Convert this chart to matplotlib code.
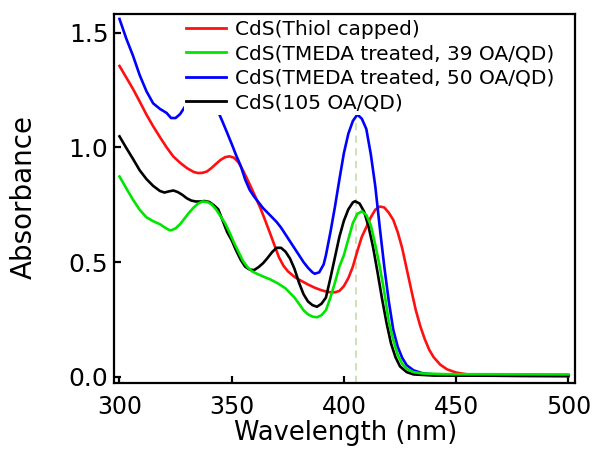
import matplotlib
matplotlib.use("Agg")
import matplotlib.pyplot as plt

# ---------------- data ----------------
labels = ["CdS(Thiol capped)",
          "CdS(TMEDA treated, 39 OA/QD)",
          "CdS(TMEDA treated, 50 OA/QD)",
          "CdS(105 OA/QD)"]

red_wl = [300, 303, 306, 309, 312, 315, 318, 321, 324, 327, 330, 333, 335, 337,
          339, 341, 343, 345, 347, 349, 351, 353, 355, 357, 359, 361, 363, 365,
          367, 369, 371, 373, 375, 378, 381, 384, 387, 390, 393, 396, 398, 400,
          402, 404, 406, 408, 410, 412, 414, 416, 418, 420, 422, 424, 426, 428,
          430, 432, 434, 436, 438, 440, 443, 446, 450, 455, 460, 470, 480, 500]
red_abs = [1.355, 1.305, 1.255, 1.200, 1.143, 1.092, 1.045, 1.000, 0.960, 0.933,
           0.910, 0.893, 0.888, 0.889, 0.895, 0.910, 0.928, 0.945, 0.957, 0.961,
           0.955, 0.935, 0.900, 0.860, 0.818, 0.775, 0.730, 0.680, 0.628, 0.575,
           0.522, 0.485, 0.460, 0.435, 0.418, 0.402, 0.388, 0.377, 0.369, 0.368,
           0.374, 0.395, 0.430, 0.480, 0.548, 0.610, 0.652, 0.695, 0.728, 0.742,
           0.738, 0.715, 0.684, 0.630, 0.560, 0.470, 0.380, 0.292, 0.222, 0.165,
           0.118, 0.085, 0.052, 0.032, 0.018, 0.010, 0.006, 0.004, 0.003, 0.002]

blue_wl = [300, 303, 306, 309, 312, 315, 318, 321, 323, 325, 327, 329, 331, 334,
           337, 340, 342, 344, 346, 348, 350, 352, 354, 356, 358, 360, 362, 364,
           366, 368, 370, 372, 374, 376, 378, 380, 382, 384, 386, 387, 389, 391,
           392, 394, 396, 398, 400, 402, 404, 406, 408, 410, 412, 414, 416, 418,
           420, 422, 424, 426, 428, 431, 435, 440, 450, 470, 500]
blue_abs = [1.560, 1.475, 1.400, 1.315, 1.245, 1.192, 1.168, 1.150, 1.128, 1.128,
            1.145, 1.175, 1.205, 1.235, 1.245, 1.225, 1.195, 1.155, 1.110, 1.063,
            1.015, 0.965, 0.920, 0.860, 0.815, 0.785, 0.760, 0.735, 0.715, 0.695,
            0.675, 0.650, 0.620, 0.590, 0.560, 0.530, 0.500, 0.475, 0.455, 0.449,
            0.455, 0.490, 0.530, 0.630, 0.740, 0.860, 0.975, 1.060, 1.115, 1.143,
            1.125, 1.080, 0.970, 0.830, 0.650, 0.480, 0.330, 0.205, 0.130, 0.082,
            0.050, 0.028, 0.015, 0.010, 0.008, 0.007, 0.006]

black_wl = [300, 303, 306, 309, 312, 315, 318, 320, 322, 324, 326, 328, 330, 332,
            334, 336, 338, 340, 342, 344, 346, 348, 350, 352, 354, 356, 358, 360,
            362, 364, 366, 368, 370, 372, 374, 376, 378, 380, 382, 384, 386, 388,
            390, 392, 394, 396, 398, 400, 402, 404, 405, 407, 409, 411, 413, 415,
            417, 419, 421, 423, 425, 428, 431, 440, 500]
black_abs = [1.048, 0.998, 0.950, 0.900, 0.862, 0.832, 0.810, 0.803, 0.808, 0.812,
             0.805, 0.793, 0.778, 0.768, 0.764, 0.764, 0.766, 0.762, 0.748, 0.730,
             0.680, 0.630, 0.595, 0.550, 0.510, 0.480, 0.467, 0.465, 0.478, 0.495,
             0.518, 0.543, 0.562, 0.562, 0.545, 0.515, 0.470, 0.410, 0.360, 0.328,
             0.312, 0.305, 0.318, 0.345, 0.430, 0.520, 0.610, 0.680, 0.730, 0.760,
             0.765, 0.755, 0.720, 0.655, 0.565, 0.455, 0.340, 0.235, 0.145, 0.085,
             0.045, 0.020, 0.010, 0.005, 0.003]

green_wl = [300, 303, 306, 309, 312, 315, 318, 320, 322, 323, 325, 327, 329, 331,
            333, 335, 337, 339, 341, 343, 345, 347, 349, 351, 353, 355, 357, 359,
            361, 364, 367, 370, 372, 374, 376, 378, 380, 382, 384, 386, 388, 390,
            392, 394, 396, 398, 400, 402, 404, 406, 408, 410, 412, 414, 416, 418,
            420, 422, 424, 426, 428, 431, 435, 445, 500]
green_abs = [0.873, 0.822, 0.772, 0.728, 0.695, 0.678, 0.665, 0.652, 0.640, 0.638,
             0.647, 0.665, 0.690, 0.715, 0.737, 0.755, 0.764, 0.762, 0.752, 0.730,
             0.700, 0.670, 0.630, 0.585, 0.545, 0.505, 0.478, 0.460, 0.450, 0.437,
             0.425, 0.410, 0.398, 0.385, 0.365, 0.345, 0.318, 0.290, 0.272, 0.262,
             0.259, 0.268, 0.290, 0.345, 0.410, 0.480, 0.530, 0.600, 0.670, 0.710,
             0.721, 0.705, 0.660, 0.575, 0.480, 0.370, 0.240, 0.160, 0.095, 0.056,
             0.034, 0.020, 0.014, 0.011, 0.010]

ref_line_wl = 405.3
ref_line_top = 1.16

x_ticks = [300, 350, 400, 450, 500]
y_ticks = [0.0, 0.5, 1.0, 1.5]
y_tick_labels = ["0.0", "0.5", "1.0", "1.5"]

# ---------------- figure ----------------
plt.rcParams['font.family'] = ['DejaVu Sans']
fig = plt.figure(figsize=(5.96, 4.57), dpi=100)
ax = fig.add_axes([114/596, 1 - 383/457, 461/596, 369/457])

lw = 1.9
ax.plot(red_wl, red_abs, color='#ff1010', lw=lw, label=labels[0], zorder=2)
ax.plot(blue_wl, blue_abs, color='#0000ff', lw=lw, label=labels[2], zorder=2.1)
ax.plot(black_wl, black_abs, color='black', lw=lw, label=labels[3], zorder=2.2)
ax.plot(green_wl, green_abs, color='#00e600', lw=lw, label=labels[1], zorder=2.3)

ax.axvline(ref_line_wl, ymin=0, ymax=(ref_line_top + 0.0275) / (1.5816 + 0.0275),
           color='#c8e0b0', lw=1.3, ls=(0, (4, 3)), zorder=1.5)

ax.set_xlim(297.55, 503.0)
ax.set_ylim(-0.0275, 1.5816)
ax.set_xticks(x_ticks)
ax.set_yticks(y_ticks)
ax.set_yticklabels(y_tick_labels)

for s in ax.spines.values():
    s.set_linewidth(1.6)
ax.tick_params(direction='in', length=5, width=1.6)
ax.tick_params(axis='x', pad=9, labelsize=17)
ax.tick_params(axis='y', pad=4, labelsize=18)

ax.set_xlabel("Wavelength (nm)", fontsize=18.5)
ax.set_ylabel("Absorbance", fontsize=20)
ax.xaxis.set_label_coords(0.502, -0.101)
ax.yaxis.set_label_coords(-0.166, 0.503)

handles, labs = ax.get_legend_handles_labels()
order = [labels.index(l) for l in labs]
hl = sorted(zip(order, handles, labs))
leg = ax.legend([h for _, h, _ in hl], [l for _, _, l in hl],
                loc='upper left', bbox_to_anchor=(184/596, 1 - 17.6/457),
                bbox_transform=fig.transFigure, borderaxespad=0,
                fontsize=14.5, frameon=True, framealpha=1, facecolor='white',
                edgecolor='none', fancybox=False, borderpad=0.1,
                handlelength=2.0, handletextpad=0.45, labelspacing=0.28)
leg.get_frame().set_linewidth(0)
for line in leg.get_lines():
    line.set_linewidth(2.0)

fig.savefig("out.png", dpi=100)
